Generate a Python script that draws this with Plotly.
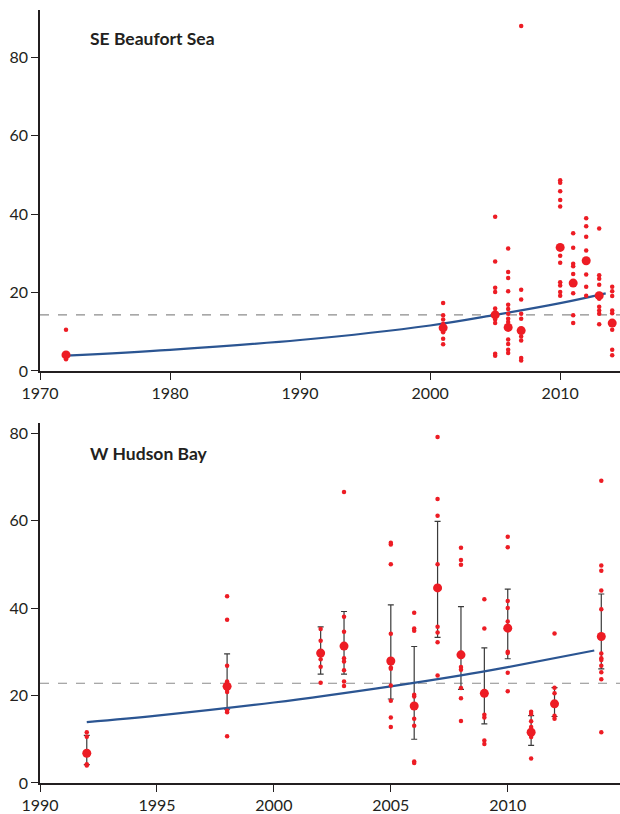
import plotly.graph_objects as go
from plotly.subplots import make_subplots

# ---------------- SE Beaufort Sea (top) ----------------
top_years = [1972, 2001, 2005, 2006, 2007, 2010, 2011, 2012, 2013, 2014]
top_points = [
    [10.5, 4.5, 3.5, 3.0],
    [17.3, 14.2, 13.1, 12.0, 9.9, 8.2, 6.8],
    [39.3, 27.9, 21.2, 20.1, 15.9, 15.0, 13.1, 12.2, 4.4, 3.9],
    [31.2, 25.2, 23.7, 20.3, 16.9, 15.8, 14.6, 13.3, 12.5, 8.0, 6.9, 5.4, 4.6],
    [87.9, 20.7, 18.2, 14.6, 13.3, 8.8, 7.8, 3.3, 2.7],
    [48.6, 48.0, 45.8, 43.6, 41.9, 29.4, 27.6, 22.6, 21.8, 20.1, 19.2],
    [35.1, 31.4, 27.3, 26.7, 24.7, 19.8, 14.2, 12.2],
    [38.9, 36.9, 34.2, 30.7, 24.6, 21.5, 19.2],
    [36.3, 24.4, 23.5, 22.0, 18.4, 16.4, 15.4, 14.6, 11.9],
    [21.5, 20.3, 19.1, 15.4, 14.7, 10.5, 5.4, 4.0],
]
top_means = [4.1, 11.0, 14.3, 11.1, 10.3, 31.5, 22.4, 28.1, 19.2, 12.2]
top_trend_x = [1972, 1980, 1990, 2000, 2005, 2010, 2013.5]
top_trend_y = [3.9, 5.4, 7.9, 11.6, 14.3, 17.3, 19.8]
top_ref = 14.3

# ---------------- W Hudson Bay (bottom) ----------------
bot_years = [1992, 1998, 2002, 2003, 2005, 2006, 2007, 2008, 2009, 2010, 2011, 2012, 2014]
bot_points = [
    [11.6, 10.6, 4.3, 4.0],
    [42.7, 37.3, 26.8, 23.2, 22.7, 21.3, 20.8, 16.5, 16.2, 10.7],
    [35.2, 32.5, 28.3, 26.6, 22.9],
    [66.5, 38.0, 34.6, 28.5, 27.8, 25.8, 23.2, 22.2],
    [54.9, 54.5, 50.0, 34.1, 26.4, 26.1, 22.3, 18.8, 15.0, 12.8],
    [38.9, 35.3, 34.8, 20.2, 19.8, 14.7, 13.1, 4.9, 4.6],
    [79.1, 64.9, 61.1, 50.0, 35.7, 34.4, 32.2, 24.6],
    [53.8, 51.0, 49.9, 26.5, 25.9, 21.7, 19.4, 14.2],
    [42.0, 35.3, 15.6, 15.0, 9.7, 8.9],
    [56.3, 53.9, 41.6, 40.0, 36.9, 30.0, 29.7, 25.2, 21.0],
    [16.3, 15.8, 14.1, 12.8, 10.5, 5.6],
    [34.2, 21.8, 20.5, 15.4, 14.7],
    [69.1, 49.7, 48.5, 44.0, 39.7, 29.6, 28.5, 28.1, 26.8, 25.3, 23.7, 11.6],
]
bot_means = [6.8, 22.1, 29.7, 31.3, 27.9, 17.6, 44.6, 29.3, 20.5, 35.4, 11.6, 18.1, 33.5]
bot_err_hi = [10.9, 29.5, 35.7, 39.2, 40.7, 31.2, 59.8, 40.3, 30.9, 44.3, 15.4, 21.8, 43.2]
bot_err_lo = [4.2, 16.9, 24.9, 24.9, 19.2, 10.0, 33.3, 21.4, 13.5, 28.4, 8.6, 15.2, 26.1]
bot_trend_x = [1992, 1995, 2000, 2005, 2008, 2010, 2013.7]
bot_trend_y = [13.9, 15.4, 18.4, 22.1, 24.6, 26.5, 30.3]
bot_ref = 22.8

RED = "#ED1C24"
BLUE = "#2B5592"
AX = "#231F20"
FONT = "Lato"

fig = make_subplots(rows=2, cols=1, vertical_spacing=0.05)

# top panel
xs, ys = [], []
for yr, pts in zip(top_years, top_points):
    for p in pts:
        xs.append(yr)
        ys.append(p)
fig.add_trace(go.Scatter(x=[1970, 2014.6], y=[top_ref, top_ref], mode="lines",
                         line=dict(color="#8C8C8C", width=1.2, dash="dash"),
                         showlegend=False), row=1, col=1)
fig.add_trace(go.Scatter(x=top_trend_x, y=top_trend_y, mode="lines",
                         line=dict(color=BLUE, width=2.2, shape="spline"),
                         showlegend=False), row=1, col=1)
fig.add_trace(go.Scatter(x=xs, y=ys, mode="markers",
                         marker=dict(color=RED, size=4.5), showlegend=False),
              row=1, col=1)
fig.add_trace(go.Scatter(x=top_years, y=top_means, mode="markers",
                         marker=dict(color=RED, size=9), showlegend=False),
              row=1, col=1)

# bottom panel
xs, ys = [], []
for yr, pts in zip(bot_years, bot_points):
    for p in pts:
        xs.append(yr)
        ys.append(p)
fig.add_trace(go.Scatter(x=[1990, 2014.8], y=[bot_ref, bot_ref], mode="lines",
                         line=dict(color="#8C8C8C", width=1.2, dash="dash"),
                         showlegend=False), row=2, col=1)
fig.add_trace(go.Scatter(
    x=bot_years, y=bot_means, mode="markers",
    marker=dict(color="rgba(0,0,0,0)", size=1),
    error_y=dict(type="data", symmetric=False,
                 array=[h - m for h, m in zip(bot_err_hi, bot_means)],
                 arrayminus=[m - l for m, l in zip(bot_means, bot_err_lo)],
                 color="#3A3A3A", thickness=1.2, width=3),
    showlegend=False), row=2, col=1)
fig.add_trace(go.Scatter(x=bot_trend_x, y=bot_trend_y, mode="lines",
                         line=dict(color=BLUE, width=2.2, shape="spline"),
                         showlegend=False), row=2, col=1)
fig.add_trace(go.Scatter(x=xs, y=ys, mode="markers",
                         marker=dict(color=RED, size=4.5), showlegend=False),
              row=2, col=1)
fig.add_trace(go.Scatter(x=bot_years, y=bot_means, mode="markers",
                         marker=dict(color=RED, size=9), showlegend=False),
              row=2, col=1)

axis_common = dict(showline=True, linecolor=AX, linewidth=1.5, ticks="outside",
                   ticklen=7, tickwidth=1.3, tickcolor=AX, showgrid=False,
                   zeroline=False, tickfont=dict(family=FONT, size=16, color=AX))

fig.update_xaxes(range=[1970, 2014.6], tickvals=[1970, 1980, 1990, 2000, 2010],
                 row=1, col=1, **axis_common)
fig.update_xaxes(range=[1990, 2014.8], tickvals=[1990, 1995, 2000, 2005, 2010],
                 row=2, col=1, **axis_common)
fig.update_yaxes(range=[0, 92], tickvals=[0, 20, 40, 60, 80], row=1, col=1, **axis_common)
fig.update_yaxes(range=[0, 82.3], tickvals=[0, 20, 40, 60, 80], row=2, col=1, **axis_common)

fig.update_layout(
    width=620, height=814,
    margin=dict(l=40, r=0, t=0, b=31),
    plot_bgcolor="white", paper_bgcolor="white",
    yaxis=dict(domain=[0.5262, 0.9872]),
    yaxis2=dict(domain=[0.0, 0.4598]),
    annotations=[
        dict(text="<b>SE Beaufort Sea</b>", x=1973.7, y=84.8, xref="x", yref="y",
             xanchor="left", yanchor="middle", showarrow=False,
             font=dict(family=FONT, size=17.5, color=AX)),
        dict(text="<b>W Hudson Bay</b>", x=1992.05, y=75.3, xref="x2", yref="y2",
             xanchor="left", yanchor="middle", showarrow=False,
             font=dict(family=FONT, size=17.5, color=AX)),
    ],
)

fig.write_html("out.html")
